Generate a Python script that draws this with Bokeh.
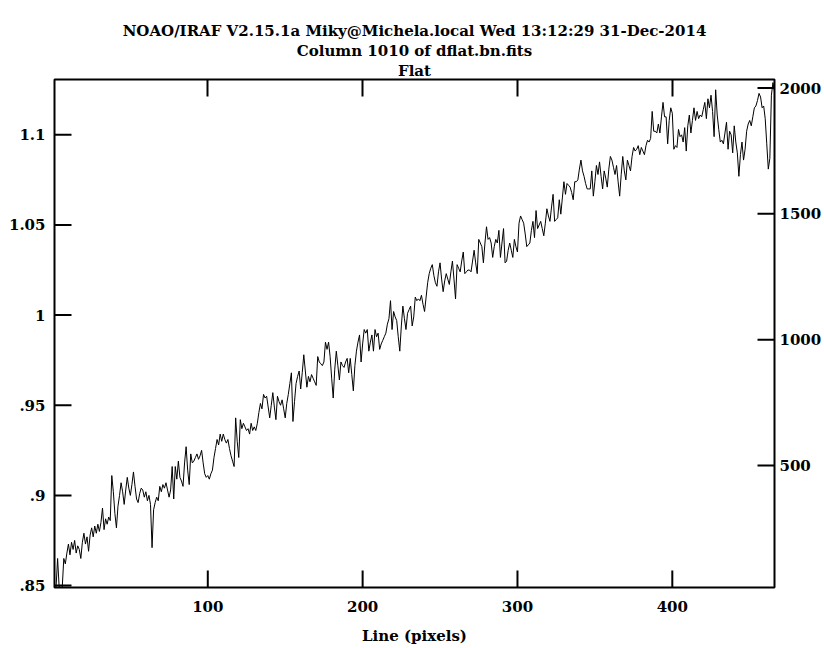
from bokeh.plotting import figure
from bokeh.models import Range1d, LinearAxis, FixedTicker, Title, ColumnDataSource
from bokeh.embed import file_html
from bokeh.resources import INLINE

# Column 1010 of dflat.bn.fits, one value per image line
lines = list(range(1, 467))
flat = [
    0.849, 0.849, 0.865, 0.849, 0.849, 0.849, 0.865, 0.862, 0.868, 0.873,
    0.867, 0.874, 0.870, 0.875, 0.868, 0.872, 0.870, 0.865, 0.874, 0.879,
    0.873, 0.877, 0.869, 0.878, 0.882, 0.877, 0.883, 0.879, 0.884, 0.880,
    0.885, 0.893, 0.881, 0.887, 0.884, 0.888, 0.886, 0.911, 0.902, 0.890,
    0.882, 0.894, 0.900, 0.907, 0.902, 0.895, 0.903, 0.910, 0.904, 0.900,
    0.906, 0.913, 0.905, 0.898, 0.896, 0.901, 0.904, 0.903, 0.899, 0.902,
    0.897, 0.900, 0.895, 0.871, 0.892, 0.896, 0.899, 0.897, 0.905, 0.902,
    0.906, 0.904, 0.907, 0.903, 0.899, 0.903, 0.916, 0.898, 0.916, 0.909,
    0.919, 0.910, 0.908, 0.905, 0.918, 0.927, 0.914, 0.906, 0.923, 0.918,
    0.919, 0.921, 0.923, 0.920, 0.922, 0.925, 0.918, 0.912, 0.910, 0.911,
    0.909, 0.912, 0.914, 0.921, 0.926, 0.931, 0.928, 0.934, 0.930, 0.934,
    0.931, 0.929, 0.931, 0.926, 0.922, 0.919, 0.916, 0.943, 0.930, 0.921,
    0.942, 0.937, 0.940, 0.938, 0.936, 0.937, 0.934, 0.940, 0.936, 0.938,
    0.936, 0.940, 0.946, 0.951, 0.948, 0.956, 0.954, 0.955, 0.949, 0.943,
    0.950, 0.957, 0.949, 0.942, 0.955, 0.952, 0.950, 0.953, 0.948, 0.943,
    0.951, 0.956, 0.962, 0.968, 0.941, 0.952, 0.962, 0.966, 0.969, 0.959,
    0.968, 0.978, 0.969, 0.960, 0.966, 0.963, 0.967, 0.965, 0.963, 0.961,
    0.977, 0.974, 0.973, 0.972, 0.974, 0.985, 0.981, 0.985, 0.977, 0.965,
    0.954, 0.970, 0.980, 0.972, 0.964, 0.974, 0.972, 0.971, 0.974, 0.976,
    0.968, 0.976, 0.967, 0.958, 0.972, 0.980, 0.985, 0.989, 0.974, 0.984,
    0.992, 0.990, 0.992, 0.980, 0.985, 0.989, 0.980, 0.992, 0.988, 0.990,
    0.981, 0.984, 0.986, 0.988, 0.990, 0.995, 0.998, 1.008, 0.992, 1.002,
    0.999, 0.997, 0.988, 0.980, 0.994, 1.005, 0.998, 0.992, 1.001, 1.003,
    1.005, 0.994, 0.999, 1.010, 1.008, 1.009, 1.008, 1.011, 1.006, 1.002,
    1.010, 1.018, 1.023, 1.026, 1.028, 1.022, 1.018, 1.016, 1.024, 1.029,
    1.020, 1.013, 1.019, 1.023, 1.020, 1.017, 1.024, 1.030, 1.020, 1.009,
    1.028, 1.026, 1.024, 1.030, 1.035, 1.023, 1.024, 1.025, 1.025, 1.024,
    1.030, 1.036, 1.029, 1.023, 1.042, 1.040, 1.038, 1.029, 1.040, 1.049,
    1.042, 1.043, 1.040, 1.032, 1.038, 1.042, 1.040, 1.047, 1.032, 1.040,
    1.048, 1.029, 1.030, 1.036, 1.040, 1.036, 1.032, 1.042, 1.038, 1.035,
    1.051, 1.055, 1.053, 1.051, 1.045, 1.038, 1.039, 1.040, 1.047, 1.052,
    1.043, 1.058, 1.048, 1.050, 1.052, 1.048, 1.044, 1.051, 1.059, 1.055,
    1.052, 1.060, 1.067, 1.052, 1.053, 1.054, 1.064, 1.056, 1.065, 1.074,
    1.067, 1.073, 1.072, 1.071, 1.068, 1.064, 1.074, 1.074, 1.075, 1.081,
    1.086, 1.080, 1.077, 1.073, 1.070, 1.070, 1.070, 1.080, 1.066, 1.074,
    1.083, 1.078, 1.085, 1.077, 1.070, 1.080, 1.076, 1.071, 1.081, 1.088,
    1.086, 1.082, 1.078, 1.083, 1.074, 1.066, 1.078, 1.088, 1.080, 1.075,
    1.086, 1.083, 1.080, 1.088, 1.093, 1.091, 1.092, 1.094, 1.089, 1.093,
    1.091, 1.089, 1.094, 1.097, 1.096, 1.098, 1.113, 1.102, 1.102, 1.101,
    1.106, 1.101, 1.110, 1.118, 1.110, 1.110, 1.095, 1.108, 1.115, 1.112,
    1.092, 1.094, 1.093, 1.103, 1.099, 1.100, 1.096, 1.104, 1.091, 1.105,
    1.111, 1.101, 1.108, 1.115, 1.108, 1.113, 1.109, 1.111, 1.110, 1.114,
    1.118, 1.109, 1.120, 1.115, 1.122, 1.113, 1.099, 1.125, 1.111, 1.103,
    1.096, 1.097, 1.095, 1.101, 1.107, 1.092, 1.102, 1.100, 1.090, 1.105,
    1.096, 1.090, 1.077, 1.089, 1.096, 1.086, 1.092, 1.102, 1.106, 1.108,
    1.105, 1.110, 1.115, 1.116, 1.119, 1.123, 1.121, 1.115, 1.116, 1.109,
    1.095, 1.081, 1.087, 1.122, 1.129, 1.124,
]

left_ticks = [0.85, 0.9, 0.95, 1.0, 1.05, 1.1]
left_labels = [".85", ".9", ".95", "1", "1.05", "1.1"]
line_ticks = [100, 200, 300, 400]
right_ticks = [500, 1000, 1500, 2000]

x_limits = (1, 466)
y_limits = (0.8489, 1.1307)
right_limits = (15, 2034)

title_lines = [
    "NOAO/IRAF V2.15.1a Miky@Michela.local Wed 13:12:29 31-Dec-2014",
    "Column 1010 of dflat.bn.fits",
    "Flat",
]
x_label = "Line (pixels)"

FONT = "DejaVu Serif"
FSIZE = "15px"

W, H = 824, 648
BORDER_L, BORDER_R, BORDER_T, BORDER_B = 54, 50, 79, 61
FRAME_W = W - BORDER_L - BORDER_R
FRAME_H = H - BORDER_T - BORDER_B
TICK = 17  # inward tick length in pixels

src = ColumnDataSource(data=dict(line=lines, flat=flat))

p = figure(
    width=W, height=H,
    output_backend="svg", toolbar_location=None,
    x_range=Range1d(*x_limits), y_range=Range1d(*y_limits),
    x_axis_location=None, y_axis_location=None,
    min_border_left=BORDER_L, min_border_right=BORDER_R,
    min_border_top=BORDER_T, min_border_bottom=BORDER_B,
)
p.extra_y_ranges = {"counts": Range1d(*right_limits)}
p.grid.visible = False
p.outline_line_color = "black"
p.outline_line_width = 2
p.background_fill_color = "white"
p.border_fill_color = "white"


def label_axis(ticks, standoff, **kw):
    """Axis that only writes the tick labels."""
    ax = LinearAxis(ticker=FixedTicker(ticks=ticks), **kw)
    ax.axis_line_color = None
    ax.major_tick_line_color = None
    ax.minor_tick_line_color = None
    ax.major_tick_in = 0
    ax.major_tick_out = 0
    ax.major_label_text_font = FONT
    ax.major_label_text_font_style = "bold"
    ax.major_label_text_font_size = FSIZE
    ax.major_label_text_color = "black"
    ax.major_label_standoff = standoff
    return ax


# x ticks hanging from the top edge
top = LinearAxis(ticker=FixedTicker(ticks=line_ticks))
top.level = "overlay"
top.axis_line_color = None
top.major_tick_in = TICK
top.major_tick_out = 0
top.major_tick_line_width = 2
top.major_tick_line_color = "black"
top.minor_tick_line_color = None
top.major_label_text_font_size = "0px"
top.major_label_text_color = None
top.major_label_standoff = 6
p.add_layout(top, "above")

# inward ticks on the bottom, left and right edges, straddling each edge
# so the frame clips the outer half away
dx = (x_limits[1] - x_limits[0]) / FRAME_W * TICK
dy = (y_limits[1] - y_limits[0]) / FRAME_H * TICK
n_x, n_l, n_r = len(line_ticks), len(left_ticks), len(right_ticks)
tick_style = dict(line_color="black", line_width=2)

p.segment(x0=line_ticks, y0=[y_limits[0] - dy] * n_x,
          x1=line_ticks, y1=[y_limits[0] + dy] * n_x, **tick_style)
p.segment(x0=[x_limits[0] - dx] * n_l, y0=left_ticks,
          x1=[x_limits[0] + dx] * n_l, y1=left_ticks, **tick_style)
p.segment(x0=[x_limits[1] - dx] * n_r, y0=right_ticks,
          x1=[x_limits[1] + dx] * n_r, y1=right_ticks,
          y_range_name="counts", **tick_style)

# labels outside the frame
left = label_axis(left_ticks, 9,
                  major_label_overrides=dict(zip(left_ticks, left_labels)))
p.add_layout(left, "left")

bottom = label_axis(line_ticks, 13, axis_label=x_label)
bottom.axis_label_text_font = FONT
bottom.axis_label_text_font_style = "bold"
bottom.axis_label_text_font_size = FSIZE
bottom.axis_label_text_color = "black"
bottom.axis_label_standoff = 12
p.add_layout(bottom, "below")

right = label_axis(right_ticks, 5, y_range_name="counts")
p.add_layout(right, "right")

# stacked header, nearest line to the frame added first
for txt in reversed(title_lines):
    p.add_layout(Title(text=txt, align="center", text_font=FONT,
                       text_font_style="bold", text_font_size=FSIZE,
                       text_color="black", standoff=0,
                       offset=22 if txt == title_lines[0] else 0),
                 "above")

p.line(x="line", y="flat", source=src, line_color="black", line_width=1)

open("out.html", "w").write(file_html(p, INLINE))
